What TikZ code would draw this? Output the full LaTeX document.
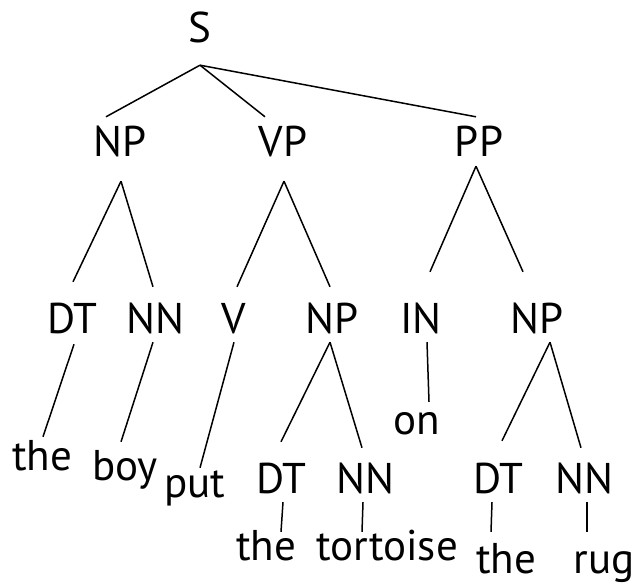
\documentclass[tikz,border=0pt]{standalone}
\usepackage{fontspec}
\setmainfont{PT Sans}
\usepackage{tikz}
\tikzstyle{cat}=[anchor=base,inner sep=0pt,text height=31pt,text depth=0pt,font=\fontsize{43}{50}\selectfont]
\tikzstyle{every node}=[cat]
\tikzstyle{branch}=[line width=1.5pt]
\begin{document}
\begin{tikzpicture}[x=1pt,y=-1pt]
        \useasboundingbox (0,0) rectangle (634,585);
        % phrase labels
        \node (s) at (200,43) {S};
        \node (np) at (120,157) {NP};
        \node (vp) at (283,157) {VP};
        \node (pp) at (479,157) {PP};
        \node (dta) at (72,333) {DT};
        \node (nna) at (155,333) {NN};
        \node (v) at (234,333) {V};
        \node (npb) at (332,333) {NP};
        \node (prep) at (421,333) {IN};
        \node (npc) at (537,333) {NP};
        \node (dtb) at (281,493) {DT};
        \node (nnb) at (365,493) {NN};
        \node (dtc) at (498,493) {DT};
        \node (nnc) at (584,493) {NN};
        % words
        \node (thea) at (42,470) {the};
        \node (boy) at (125,480) {boy};
        \node (put) at (195,497) {put};
        \node (on) at (417,434) {on};
        \node (theb) at (266,560) {the};
        \node (tortoise) at (387,560) {tortoise};
        \node (thec) at (506,573) {the};
        \node (rug) at (604,573) {rug};
        % branches
        \draw[branch] ([yshift=-22pt]s.south) -- ([shift={(-14pt,9pt)}]np.north);
        \draw[branch] ([yshift=-22pt]s.south) -- ([shift={(-18pt,9pt)}]vp.north);
        \draw[branch] ([yshift=-22pt]s.south) -- ([shift={(-3pt,9pt)}]pp.north);
        \draw[branch] ([shift={(1pt,-24pt)}]np.south) -- ([shift={(1pt,20pt)}]dta.north);
        \draw[branch] ([shift={(1pt,-24pt)}]np.south) -- ([shift={(-2pt,15pt)}]nna.north);
        \draw[branch] ([shift={(1pt,-24pt)}]vp.south) -- ([shift={(3pt,15pt)}]v.north);
        \draw[branch] ([shift={(1pt,-24pt)}]vp.south) -- ([shift={(-2pt,15pt)}]npb.north);
        \draw[branch] ([shift={(-3pt,-9pt)}]pp.south) -- ([shift={(9pt,30pt)}]prep.north);
        \draw[branch] ([shift={(-3pt,-9pt)}]pp.south) -- ([shift={(-14pt,30pt)}]npc.north);
        \draw[branch] ([shift={(2pt,-11pt)}]dta.south) -- ([shift={(1pt,2pt)}]thea.north);
        \draw[branch] ([shift={(-2pt,-9pt)}]nna.south) -- ([shift={(-4pt,7pt)}]boy.north);
        \draw[branch] ([yshift=-9pt]v.south) -- ([shift={(5pt,-2pt)}]put.north);
        \draw[branch] ([shift={(-2pt,-9pt)}]npb.south) -- ([yshift=20pt]dtb.north);
        \draw[branch] ([shift={(-2pt,-9pt)}]npb.south) -- ([shift={(-3pt,14pt)}]nnb.north);
        \draw[branch] ([shift={(6pt,-9pt)}]prep.south) -- ([shift={(12pt,1pt)}]on.north);
        \draw[branch] ([shift={(13pt,-9pt)}]npc.south) -- ([shift={(4pt,21pt)}]dtc.north);
        \draw[branch] ([shift={(13pt,-9pt)}]npc.south) -- ([shift={(-3pt,14pt)}]nnc.north);
        \draw[branch] ([shift={(2pt,-9pt)}]dtb.south) -- ([shift={(15pt,-3pt)}]theb.north);
        \draw[branch] ([shift={(-2pt,-9pt)}]nnb.south) -- ([shift={(-25pt,-3pt)}]tortoise.north);
        \draw[branch] ([shift={(-6pt,-9pt)}]dtc.south) -- ([shift={(-15pt,10pt)}]thec.north);
        \draw[branch] ([shift={(3pt,-9pt)}]nnc.south) -- ([shift={(-17pt,10pt)}]rug.north);
\end{tikzpicture}
\end{document}
